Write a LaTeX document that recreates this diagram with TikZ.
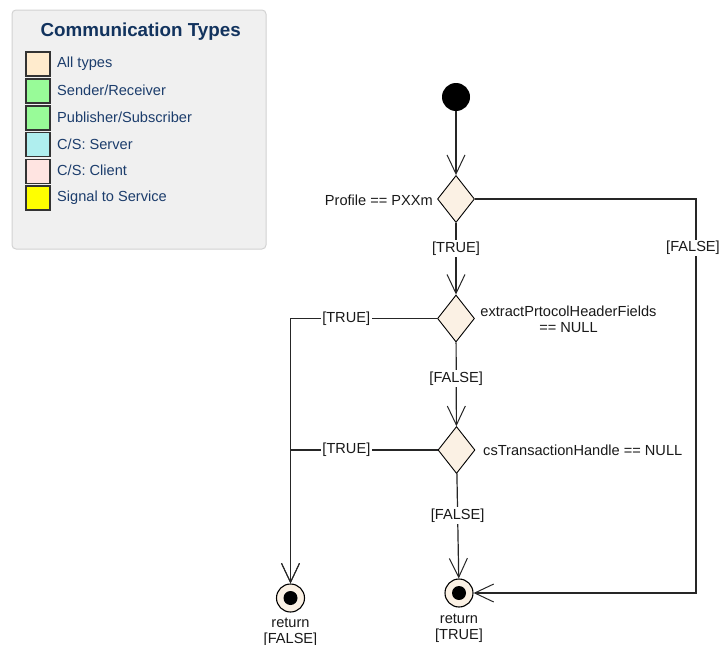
\documentclass[tikz,border=0pt]{standalone}
\usepackage{fontspec}
\setmainfont{Liberation Sans}
\usetikzlibrary{shapes.geometric,arrows.meta}
\definecolor{linenfill}{HTML}{FBF1E4}
\definecolor{navy}{HTML}{12335E}
\definecolor{legtext}{HTML}{1C3D6C}
\definecolor{legfill}{HTML}{F0F0F0}
\definecolor{legborder}{HTML}{D2D2D2}
\definecolor{cAll}{HTML}{FFEBCD}
\definecolor{cSR}{HTML}{98FB98}
\definecolor{cSrv}{HTML}{AFEEEE}
\definecolor{cCli}{HTML}{FFE4E1}
\definecolor{cSig}{HTML}{FFFF00}
\tikzset{
  txt/.style={font=\fontsize{14.6}{16}\selectfont, text=black!90, inner sep=1pt},
  lbl/.style={txt, fill=white, inner sep=1.5pt},
  dec/.style={diamond, draw=black, line width=0.9pt, fill=linenfill, minimum width=37pt, minimum height=47pt, inner sep=0pt},
  initnode/.style={circle, fill=black, minimum size=28pt, inner sep=0pt},
  finalnode/.style={circle, draw=black, line width=1.1pt, fill=linenfill, minimum size=28pt, inner sep=0pt},
  conn/.style={draw=black!85, line width=1.2pt, -{Straight Barb[length=19pt,width=18pt,line width=1pt]}},
  swatch/.style={draw=black!80, line width=1.3pt, minimum size=24pt, inner sep=0pt},
  legitem/.style={anchor=west, font=\fontsize{14.6}{16}\selectfont, text=legtext, inner sep=0pt},
}
\begin{document}
\begin{tikzpicture}[x=1pt,y=-1pt]
\useasboundingbox (0,0) rectangle (721,645);
% legend
\node[draw=legborder, fill=legfill, line width=1pt, rounded corners=4pt, minimum width=254pt, minimum height=239pt, inner sep=0pt] (legend) at (139,129.5) {};
\node[font=\fontsize{18.8}{20}\selectfont\bfseries, text=navy] (title) at (140.7,31.5) {Communication Types};
\node[swatch, fill=cAll] (s1) at (38,64) {};
\node[swatch, fill=cSR]  (s2) at (38,91) {};
\node[swatch, fill=cSR]  (s3) at (38,118) {};
\node[swatch, fill=cSrv] (s4) at (38,144.7) {};
\node[swatch, fill=cCli] (s5) at (38,171.3) {};
\node[swatch, fill=cSig] (s6) at (38,198) {};
\node[legitem] (l1) at (57,63.5) {All types};
\node[legitem] (l2) at (57,90.5) {Sender/Receiver};
\node[legitem] (l3) at (57,117.5) {Publisher/Subscriber};
\node[legitem] (l4) at (57,144) {C/S: Server};
\node[legitem] (l5) at (57,170.5) {C/S: Client};
\node[legitem] (l6) at (57,197.5) {Signal to Service};
% activity nodes
\node[initnode] (init) at (456,97) {};
\node[dec] (d1) at (456,199) {};
\node[dec] (d2) at (456,318.5) {};
\node[dec] (d3) at (456.5,450) {};
\node[finalnode] (fT) at (459,593) {};
\fill[black] (fT.center) circle[radius=7pt];
\node[finalnode] (fF) at (290.5,598) {};
\fill[black] (fF.center) circle[radius=7pt];
\coordinate (rr) at (696,593);
% texts
\node[txt, anchor=east] (t1) at ([xshift=-3pt,yshift=-1pt]d1.west) {Profile == PXXm};
\node[txt, align=center] (t2) at (568.5,319.5) {extractPrtocolHeaderFields\\== NULL};
\node[txt, anchor=west] (t3) at (482,450.5) {csTransactionHandle == NULL};
\node[txt, align=center, anchor=north] (rF) at ([yshift=-4pt]fF.south) {return\\{}[FALSE]};
\node[txt, align=center, anchor=north] (rT) at ([yshift=-5pt]fT.south) {return\\{}[TRUE]};
% connectors
\draw[conn] (init) -- (d1);
\draw[conn] (d1) -- node[lbl, pos=0.36] {[TRUE]} (d2);
\draw[conn] (d1.east) -| node[lbl, pos=0.562, xshift=-3pt] {[FALSE]} (rr) -- (fT.east);
\draw[conn] (d2.west) -| node[lbl, pos=0.31] {[TRUE]} (fF.north);
\draw[conn] (d2) -- node[lbl, pos=0.43] {[FALSE]} (d3);
\draw[conn] (d3.west) -| node[lbl, pos=0.31] {[TRUE]} (fF.north);
\draw[conn] (d3) -- node[lbl, pos=0.4] {[FALSE]} (fT);
\end{tikzpicture}
\end{document}
